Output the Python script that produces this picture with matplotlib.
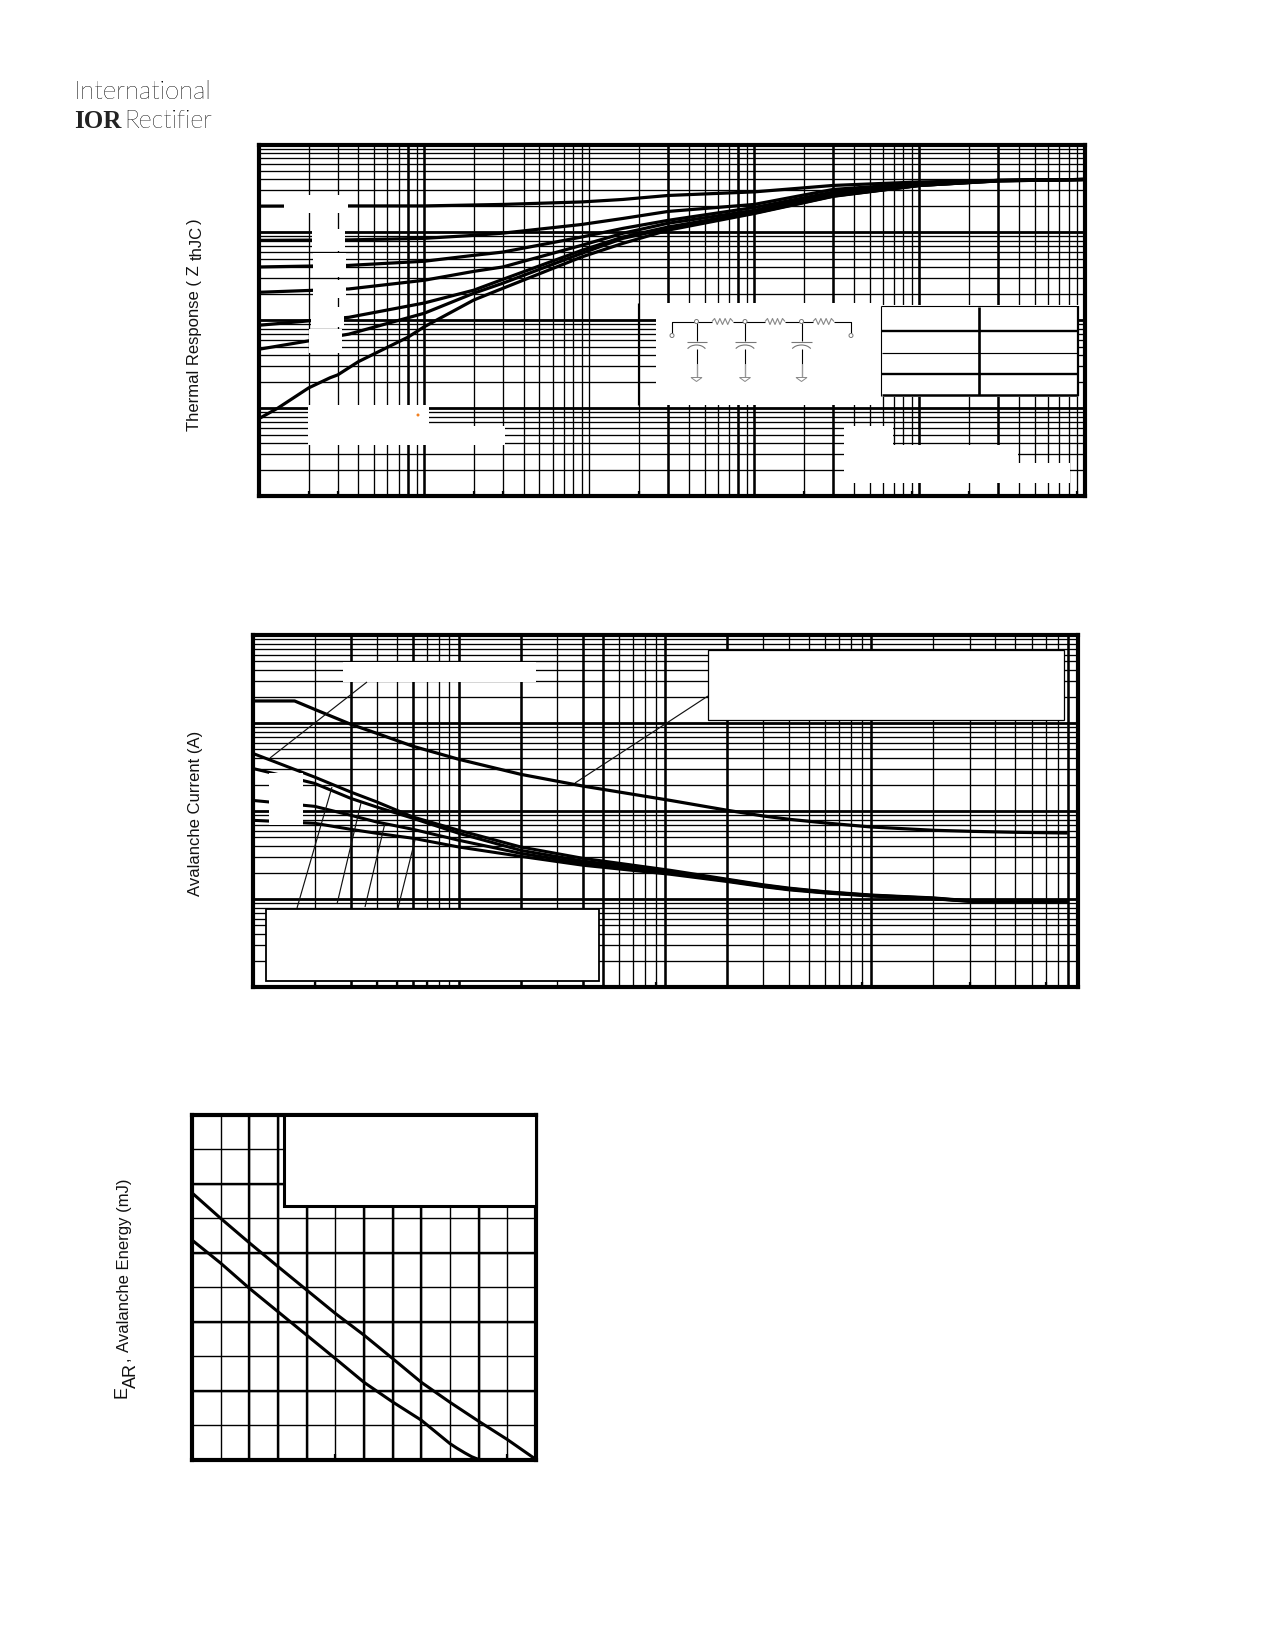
import matplotlib
matplotlib.use("Agg")
import numpy as np
from matplotlib import pyplot as plt
from matplotlib.lines import Line2D
from matplotlib.patches import Arc, Circle, Polygon, Rectangle
from matplotlib.ticker import LogLocator, NullFormatter
from matplotlib.transforms import Affine2D

W, H = 1275, 1650

# Thermal response chart
thermal_t = [1e-6, 3.5e-6, 1e-5, 2e-5, 3e-5, 9e-5, 1.6e-4, 3e-4, 1e-3, 3e-3, 1e-2, 3e-2, 1e-1]
thermal_d50 = [.199, .200, .200, .205, .208, .222, .237, .263, .289, .342, .375, .390, .400]
thermal_d20 = [.0811, .0821, .0855, .0925, .098, .123, .144, .173, .208, .308, .361, .390, .400]
thermal_d10 = [.0404, .0421, .0469, .0548, .0597, .0885, .111, .137, .192, .287, .361, .390, .400]
thermal_d05 = [.0208, .0227, .0285, .036, .0404, .0712, .0977, .127, .178, .278, .351, .390, .400]
thermal_d02 = [.00877, .0108, .0157, .0220, .0292, .0624, .0885, .115, .170, .263, .342, .387, .400]
thermal_d01 = [.00468, .00695, .0120, .0203, .0264, .0577, .0855, .111, .166, .259, .342, .385, .400]
single_t = [1e-6, 1.3e-6, 2e-6, 2.7e-6, 3e-6, 4e-6, 8e-6, 1e-5, 2e-5, 3e-5, 9e-5, 1.6e-4, 3e-4, 1e-3, 3e-3, 1e-2, 3e-2, 1e-1]
single_pulse = [.00076, .00100, .00170, .00222, .00239, .00338, .00643, .00841, .0170, .0231, .0525, .075, .106, .164, .257, .342, .385, .400]
thermal_thick_x = [8e-6, 1e-5, 3e-4, 8e-4, 1e-3, 3e-3, 1e-2, 3e-2]
thermal_stubs = [2e-6, 3e-6, 2e-5, 3e-5, 2e-4, 2e-3, 9e-3, 2e-2, 9e-2]

# Avalanche current chart
upper_t = [1e-6, 1.6e-6, 2e-6, 3e-6, 4e-6, 6e-6, 1e-5, 2e-5, 4e-5, 1.06e-4, 2e-4, 3e-4, 4e-4, 6e-4, 1e-3, 2e-3, 3e-3, 5e-3, 8.8e-3]
upper_i = [178, 178, 143, 96.6, 76.4, 54.4, 38.7, 26.1, 19.2, 13.2, 10.2, 8.77, 8.05, 7.31, 6.58, 6.04, 5.88, 5.73, 5.62]
lower_t = [1e-6, 2e-6, 3e-6, 4e-6, 6e-6, 1e-5, 2e-5, 4e-5, 1.06e-4, 2e-4, 3e-4, 4e-4, 6e-4, 1e-3, 2e-3, 3e-3, 5e-3, 8.8e-3]
lower_a = [45.3, 24.3, 16.4, 12.7, 8.55, 6.04, 3.90, 2.90, 2.12, 1.68, 1.45, 1.33, 1.21, 1.11, 1.03, .955, .93, .93]
lower_b = [30.5, 20.6, 13.9, 11.1, 8.26, 5.58, 3.57, 2.70, 2.03, 1.65, 1.43, 1.31, 1.20, 1.10, 1.02, .95, .925, .925]
lower_c = [13.2, 11.3, 8.93, 7.5, 6.19, 4.65, 3.30, 2.55, 1.96, 1.61, 1.40, 1.29, 1.18, 1.09, 1.01, .945, .92, .92]
lower_d = [7.84, 7.25, 6.19, 5.58, 4.9, 3.9, 3.05, 2.42, 1.91, 1.58, 1.38, 1.27, 1.17, 1.08, 1.005, .94, .92, .92]
avalanche_thick_x = [3e-6, 6e-6, 1e-5, 2e-5, 4e-5, 5e-5, 1e-4, 2e-4, 1e-3, 9e-3]
avalanche_stubs = [2e-6, 4e-6, 5e-6, 7e-6, 9e-5, 9e-4, 3e-3, 7e-3]

# Avalanche energy chart
energy_grid_x = [25, 37.5, 50, 62.5, 75, 87.5, 100, 112.5, 125, 137.5, 150, 162.5, 175]
energy_grid_y = [0, 10, 20, 30, 40, 50, 60, 70, 80, 90, 100]
energy_top_t = [25, 37.5, 50, 62.5, 75, 87.5, 100, 112.5, 125, 137.5, 150, 162.5, 175]
energy_top = [77.4, 70.0, 62.9, 56.0, 49.2, 42.4, 36.1, 29.3, 22.4, 16.6, 11.1, 5.8, 0]
energy_low_t = [25, 37.5, 50, 62.5, 75, 87.5, 100, 112.5, 125, 137.5, 140.5, 144, 147, 150]
energy_low = [63.7, 57.0, 49.7, 42.9, 36.1, 29.3, 22.4, 16.7, 11.4, 4.6, 3.3, 1.9, 0.8, 0]
energy_thick_x = [50, 62.5, 75, 100, 112.5, 125, 150]
energy_thick_y = [20, 40, 60, 80]
energy_stubs = [87.5, 162.5]

plt.rcParams["font.family"] = ["Liberation Sans", "DejaVu Sans"]

fig = plt.figure(figsize=(W / 100, H / 100), dpi=100)
px = Affine2D().scale(1, -1).translate(0, H)


def make_axes(left, top, right, bottom):
    ax = fig.add_axes([left / W, 1 - bottom / H, (right - left) / W, (bottom - top) / H])
    for spine in ax.spines.values():
        spine.set_linewidth(3.0)
        spine.set_zorder(4)
    return ax


def log_grid(ax, xlim, ylim, thick_x, stubs):
    ax.set_xscale("log")
    ax.set_yscale("log")
    ax.set_xlim(xlim)
    ax.set_ylim(ylim)
    for axis in (ax.xaxis, ax.yaxis):
        axis.set_major_locator(LogLocator(base=10, numticks=12))
        axis.set_minor_locator(LogLocator(base=10, subs=range(2, 10), numticks=12))
        axis.set_major_formatter(NullFormatter())
        axis.set_minor_formatter(NullFormatter())
    ax.tick_params(which="both", length=0)
    ax.grid(True, which="minor", color="black", lw=0.95)
    ax.grid(True, which="major", axis="y", color="black", lw=2.0)
    ax.grid(True, which="major", axis="x", color="black", lw=0.95)
    for x in thick_x:
        ax.axvline(x, color="black", lw=1.8)
    ax.vlines(stubs, ylim[0], ylim[0] * 1.15, color="black", lw=1.6)
    ax.set_axisbelow(True)


def mask(x0, y0, x1, y1):
    fig.add_artist(Rectangle((x0, y0), x1 - x0, y1 - y0, transform=px, fc="white", ec="none", zorder=5))


def seg(xs, ys, color="black", lw=0.85, zorder=6):
    fig.add_artist(Line2D(xs, ys, transform=px, color=color, lw=lw, zorder=zorder, solid_capstyle="butt"))


def vtext(x, y, s, size=12):
    fig.text(x / W, 1 - y / H, s, rotation=90, fontsize=size, ha="center", va="bottom", color="#111111")


# Thermal response
ax1 = make_axes(259, 144.5, 1084.5, 496)
log_grid(ax1, (1e-6, 1e-1), (1e-4, 1), thermal_thick_x, thermal_stubs)
for values in [thermal_d50, thermal_d20, thermal_d10, thermal_d05, thermal_d02, thermal_d01]:
    ax1.plot(thermal_t, values, color="black", lw=2.3, zorder=3)
ax1.plot(single_t, single_pulse, color="black", lw=2.3, zorder=3)

mask(284, 195, 348, 213)
mask(312, 229, 345, 251)
mask(313, 253, 346, 277)
mask(313, 280, 346, 298)
mask(311, 307, 344, 327)
mask(309, 329, 342, 353)
mask(308, 405, 429, 426)
mask(308, 426, 505, 445)
mask(844, 426, 893, 445)
mask(844, 445, 1018, 463)
mask(844, 463, 1070, 483)
mask(656, 303, 880, 405)
mask(880, 305, 1079, 397)
seg([638, 638], [303, 405])
fig.add_artist(Circle((418, 415), 1.5, transform=px, fc="#f28020", ec="none", zorder=6))

# RC network drawn over the mask
wire_y = 321.5
seg([672, 672, 712], [335, wire_y, wire_y], lw=0.8)
seg([733, 765], [wire_y, wire_y], lw=0.8)
seg([785, 813], [wire_y, wire_y], lw=0.8)
seg([834, 851, 851], [wire_y, wire_y, 335], lw=0.8)
for x0, x1 in [(712, 733), (765, 785), (813, 834)]:
    xs = np.linspace(x0, x1, 9)
    ys = [wire_y, wire_y - 3, wire_y + 3, wire_y - 3, wire_y + 3, wire_y - 3, wire_y + 3, wire_y - 3, wire_y]
    seg(xs, ys, color="#888888", lw=0.8)
for cx, half in [(696.5, 10), (745, 10.5), (801.5, 10.5)]:
    seg([cx, cx], [wire_y, 341], lw=0.8)
    seg([cx - half, cx + half], [341.5, 341.5], color="#777777", lw=0.8)
    fig.add_artist(Arc((cx, 352), 2 * half, 14, theta1=200, theta2=340, transform=px, color="#777777", lw=0.8, zorder=6))
    seg([cx, cx], [349, 364], lw=0.8)
    seg([cx, cx], [364, 377], color="#999999", lw=1.0)
    fig.add_artist(Polygon([(cx - 5.5, 377.5), (cx + 5.5, 377.5), (cx, 381.5)], transform=px, fc="white", ec="#888888", lw=0.7, zorder=6))
    fig.add_artist(Circle((cx, 321.5), 2, transform=px, fc="white", ec="#777777", lw=0.7, zorder=7))
for cx in [672, 851]:
    fig.add_artist(Circle((cx, 335.5), 2, transform=px, fc="white", ec="#777777", lw=0.7, zorder=7))

# Rth / tau table
seg([881, 1078], [306, 306], lw=0.8)
seg([881, 881], [306, 396], lw=0.8)
seg([1078, 1078], [306, 396], lw=1.6)
seg([979, 979], [307, 395], lw=1.9)
seg([882, 1077], [331, 331], lw=1.7)
seg([882, 1077], [352.5, 352.5], lw=0.85)
seg([882, 1077], [374, 374], lw=1.7)
seg([882, 1078], [395, 395], lw=1.8)

vtext(194, 431, "Thermal Response ( Z", 12)
vtext(197, 260, "thJC", 12)
vtext(194, 224, ")", 12)

# Avalanche current
ax2 = make_axes(252.5, 635, 1077.5, 987)
log_grid(ax2, (1e-6, 1e-2), (0.1, 1000), avalanche_thick_x, avalanche_stubs)
ax2.plot(upper_t, upper_i, color="black", lw=2.3, zorder=3)
for values in [lower_a, lower_b, lower_c, lower_d]:
    ax2.plot(lower_t, values, color="black", lw=2.2, zorder=3)

mask(343, 662, 536, 682)
mask(269, 773, 303, 825)
for x0, y0, x1, y1 in [(270, 758, 367, 682), (575, 783, 708, 696), (332, 787, 297, 908),
                       (361, 803, 337, 904), (385, 823, 365, 907), (415, 840, 398, 908)]:
    seg([x0, x1], [y0, y1], color="#111111", lw=0.85)
fig.add_artist(Rectangle((708, 650), 356, 70, transform=px, fc="white", ec="black", lw=0.9, zorder=7))
fig.add_artist(Rectangle((266, 909), 333, 72, transform=px, fc="white", ec="black", lw=1.3, zorder=7))
vtext(195, 896, "Avalanche Current (A)")

# Avalanche energy
ax3 = make_axes(192, 1115, 536, 1459.5)
ax3.set_xlim(25, 175)
ax3.set_ylim(0, 100)
ax3.set_xticks(energy_grid_x)
ax3.set_yticks(energy_grid_y)
ax3.set_xticklabels([])
ax3.set_yticklabels([])
ax3.tick_params(length=0)
ax3.grid(True, color="black", lw=1.0)
ax3.set_axisbelow(True)
for x in energy_thick_x:
    ax3.axvline(x, color="black", lw=1.7)
for y in energy_thick_y:
    ax3.axhline(y, color="black", lw=1.7)
ax3.vlines(energy_stubs, 0, 1.5, color="black", lw=1.6)
ax3.plot(energy_top_t, energy_top, color="black", lw=2.2, zorder=3)
ax3.plot(energy_low_t, energy_low, color="black", lw=2.2, zorder=3)
fig.add_artist(Rectangle((283.5, 1115), 252, 91, transform=px, fc="white", ec="black", lw=2.2, zorder=7))
vtext(122, 1398, "E", 13)
vtext(131, 1388, "AR", 13)
vtext(124, 1361, ",")
vtext(124, 1352, "Avalanche Energy (mJ)")

# Logo
fig.text(74 / W, 1 - 99 / H, "International", family="Lato", weight="light", fontsize=18.5, color="black")
fig.text(124 / W, 1 - 128 / H, "Rectifier", family="Lato", weight="light", fontsize=18, color="black")
fig.text(74 / W, 1 - 128 / H, "IOR", family="Liberation Serif", weight="bold", fontsize=18, color="#222222")
# second pass darkens the thin strokes
fig.text(74 / W, 1 - 99 / H, "International", family="Lato", weight="light", fontsize=18.5, color="black")
fig.text(124 / W, 1 - 128 / H, "Rectifier", family="Lato", weight="light", fontsize=18, color="black")

fig.savefig("out.png", dpi=100)
